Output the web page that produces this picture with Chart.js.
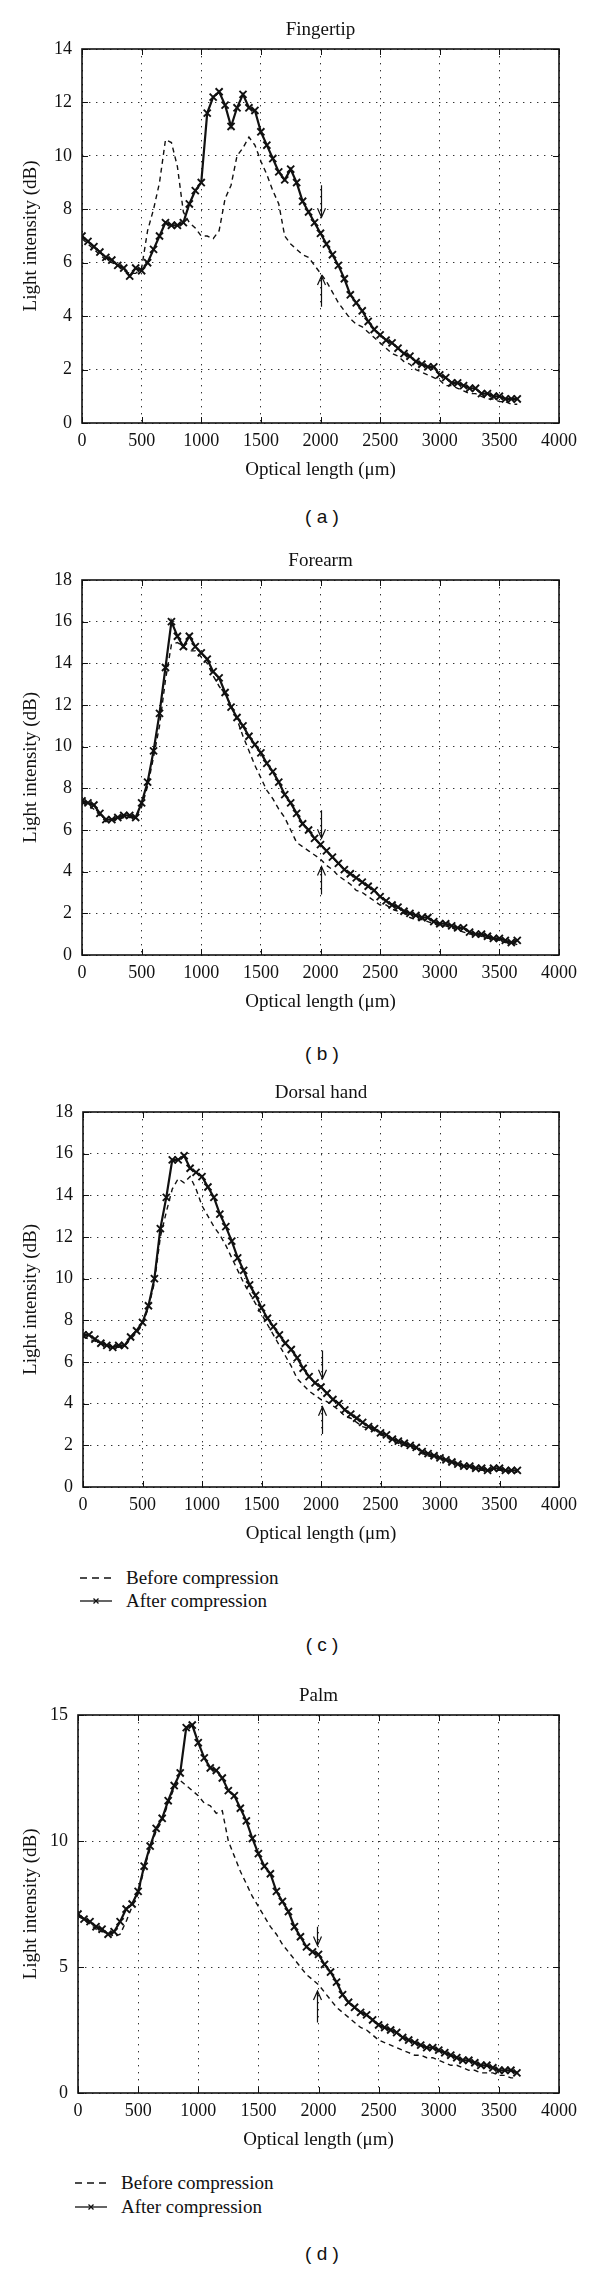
<!DOCTYPE html>
<html>
<head>
<meta charset="utf-8">
<script src="https://cdn.jsdelivr.net/npm/chart.js@4.4.1/dist/chart.umd.min.js"></script>
<style>
body { margin: 0; background: #fff; width: 600px; height: 2269px; position: relative; overflow: hidden; color: #111; font-family: "Liberation Serif", "Times New Roman", serif; }
.panel { position: absolute; left: 0; width: 600px; }
.tag { position: absolute; left: 222px; width: 200px; text-align: center; line-height: 22px; font: 19px "Liberation Sans", Arial, sans-serif; white-space: pre; }
.key { position: absolute; height: 24px; line-height: 24px; font-size: 19px; white-space: nowrap; }
.key svg { position: absolute; left: 0; top: 7px; }
.key span { position: absolute; }
</style>
</head>
<body>

<script>
// optical length in um, one sample every 50 um
var opticalLength = [0,50,100,150,200,250,300,350,400,450,
	500,550,600,650,700,750,800,850,900,950,
	1000,1050,1100,1150,1200,1250,1300,1350,1400,1450,
	1500,1550,1600,1650,1700,1750,1800,1850,1900,1950,
	2000,2050,2100,2150,2200,2250,2300,2350,2400,2450,
	2500,2550,2600,2650,2700,2750,2800,2850,2900,2950,
	3000,3050,3100,3150,3200,3250,3300,3350,3400,3450,
	3500,3550,3600,3650];

// light intensity (dB)
var fingertipBefore = [6.9,6.7,6.5,6.3,6.1,6.0,5.9,5.7,5.6,5.6,
	5.8,7.2,8.0,9.0,10.6,10.5,9.6,7.9,7.5,7.3,
	7.0,7.0,6.9,7.2,8.4,8.9,10.0,10.3,10.7,10.4,
	9.8,9.3,8.7,8.2,7.0,6.7,6.5,6.3,6.2,5.9,
	5.6,5.3,4.9,4.5,4.2,3.9,3.7,3.6,3.4,3.2,
	3.0,2.8,2.6,2.5,2.3,2.2,2.0,1.9,1.8,1.7,
	1.6,1.4,1.4,1.3,1.2,1.1,1.1,1.0,0.9,0.9,
	0.8,0.8,0.7,0.7];
var fingertipAfter = [7.0,6.8,6.6,6.4,6.2,6.1,5.9,5.8,5.5,5.8,
	5.7,6.0,6.5,7.0,7.5,7.4,7.4,7.5,8.2,8.7,
	9.0,11.6,12.2,12.4,11.9,11.1,11.8,12.3,11.8,11.7,
	10.9,10.4,9.9,9.4,9.1,9.5,9.0,8.3,7.9,7.5,
	7.1,6.7,6.3,5.9,5.4,4.8,4.5,4.2,3.8,3.5,
	3.3,3.1,3.0,2.8,2.6,2.5,2.3,2.2,2.1,2.1,
	1.8,1.7,1.5,1.5,1.4,1.3,1.3,1.1,1.1,1.0,
	1.0,0.9,0.9,0.9];

var forearmBefore = [7.3,7.2,7.0,6.7,6.4,6.5,6.5,6.6,6.6,6.6,
	7.1,8.1,9.5,11.0,13.2,14.9,15.0,14.8,14.6,14.6,
	14.3,14.0,13.4,12.9,12.5,12.0,11.3,10.5,9.8,9.1,
	8.5,7.9,7.5,7.0,6.6,6.0,5.4,5.2,5.0,4.8,
	4.6,4.3,4.1,3.8,3.6,3.4,3.1,3.0,2.8,2.6,
	2.4,2.4,2.2,2.1,2.0,1.8,1.7,1.7,1.6,1.5,
	1.4,1.4,1.3,1.2,1.1,1.0,1.0,0.9,0.8,0.8,
	0.7,0.6,0.6,0.5];
var forearmAfter = [7.4,7.3,7.2,6.8,6.5,6.5,6.6,6.7,6.7,6.6,
	7.3,8.3,9.8,11.6,13.8,16.0,15.3,14.8,15.3,14.8,
	14.5,14.2,13.6,13.3,12.6,11.9,11.4,11.0,10.5,10.1,
	9.7,9.2,8.8,8.3,7.7,7.3,6.8,6.3,6.0,5.6,
	5.3,5.0,4.7,4.4,4.1,3.9,3.7,3.5,3.3,3.1,
	2.8,2.6,2.4,2.3,2.1,2.0,1.9,1.8,1.8,1.6,
	1.5,1.5,1.4,1.3,1.3,1.1,1.0,1.0,0.9,0.8,
	0.8,0.7,0.6,0.7];

var dorsalBefore = [7.2,7.1,7.0,6.9,6.8,6.7,6.7,6.8,7.1,7.4,
	7.8,8.6,9.8,12.0,13.2,14.3,14.8,14.6,14.9,14.3,
	13.5,13.0,12.5,12.1,11.6,11.0,10.4,9.8,9.3,8.8,
	8.3,7.8,7.3,6.8,6.3,5.8,5.2,4.9,4.6,4.4,
	4.2,4.1,3.9,3.7,3.4,3.3,3.1,2.9,2.8,2.7,
	2.5,2.4,2.2,2.1,2.0,1.9,1.8,1.6,1.5,1.4,
	1.4,1.3,1.2,1.1,1.0,0.9,0.9,0.8,0.8,0.8,
	0.8,0.8,0.7,0.7];
var dorsalAfter = [7.3,7.3,7.1,6.9,6.8,6.7,6.8,6.8,7.2,7.5,
	7.9,8.7,10.0,12.4,13.9,15.7,15.7,15.9,15.3,15.1,
	14.9,14.4,13.9,13.1,12.5,11.8,11.0,10.4,9.7,9.2,
	8.6,8.1,7.7,7.3,6.9,6.6,6.2,5.7,5.3,5.0,
	4.8,4.5,4.2,4.0,3.7,3.5,3.3,3.1,2.9,2.8,
	2.6,2.5,2.3,2.2,2.1,2.0,1.9,1.7,1.6,1.5,
	1.4,1.3,1.2,1.1,1.0,1.0,0.9,0.9,0.8,0.9,
	0.9,0.8,0.8,0.8];

var palmBefore = [7.0,6.9,6.7,6.5,6.4,6.4,6.2,6.3,6.8,7.4,
	7.9,8.9,9.7,10.4,10.8,11.5,12.1,12.4,12.2,12.0,
	11.8,11.5,11.4,11.1,11.2,10.0,9.4,8.8,8.3,7.8,
	7.4,7.0,6.6,6.3,5.9,5.6,5.3,5.0,4.7,4.5,
	4.3,4.0,3.7,3.4,3.2,3.0,2.8,2.6,2.5,2.3,
	2.1,2.0,1.9,1.8,1.7,1.6,1.5,1.5,1.4,1.4,
	1.3,1.2,1.1,1.1,1.0,0.9,0.9,0.8,0.8,0.8,
	0.7,0.7,0.6,0.6];
var palmAfter = [7.1,6.9,6.8,6.6,6.5,6.3,6.4,6.8,7.3,7.5,
	8.0,9.0,9.8,10.5,10.9,11.6,12.2,12.7,14.5,14.6,
	13.9,13.3,12.9,12.8,12.5,12.0,11.8,11.3,10.8,10.1,
	9.5,9.0,8.7,8.0,7.6,7.2,6.6,6.2,5.8,5.6,
	5.5,5.1,4.8,4.4,3.9,3.6,3.4,3.2,3.1,2.9,
	2.7,2.6,2.5,2.4,2.2,2.1,2.0,1.9,1.8,1.8,
	1.7,1.6,1.5,1.4,1.3,1.3,1.2,1.1,1.1,1.0,
	0.9,0.9,0.9,0.8];

// arrows at the 2000 um mark: [x, from, to]
var fingertipArrows = [[2000, 8.9, 7.7], [2000, 4.35, 5.5]];
var forearmArrows = [[2000, 6.95, 5.6], [2000, 2.9, 4.25]];
var dorsalArrows = [[2010, 6.55, 5.2], [2010, 2.55, 3.85]];
var palmArrows = [[1990, 6.6, 5.85], [1990, 2.8, 4.05]];

var panelTitles = ['Fingertip', 'Forearm', 'Dorsal hand', 'Palm'];
var panelTags = ['( a )', '( b )', '( c )', '( d )'];
var yMaxima = [14, 18, 18, 15];
var ySteps = [2, 2, 2, 5];
var xTicks = [0, 500, 1000, 1500, 2000, 2500, 3000, 3500, 4000];
var seriesNames = ['Before compression', 'After compression'];
</script>

<script>
var SERIF = '"Liberation Serif", "Times New Roman", serif';
var INK = '#111';

// frame, inward ticks and the two arrows
var framePlugin = {
	id: 'frame',
	afterDatasetsDraw: function(chart, args, opts) {
		var ctx = chart.ctx, a = chart.chartArea;
		var xs = chart.scales.x, ys = chart.scales.y;
		ctx.save();
		ctx.strokeStyle = INK;
		ctx.lineWidth = 1;
		xs.ticks.forEach(function(t) {
			var px = Math.round(xs.getPixelForValue(t.value)) + 0.5;
			ctx.beginPath();
			ctx.moveTo(px, a.bottom); ctx.lineTo(px, a.bottom - 6);
			ctx.moveTo(px, a.top); ctx.lineTo(px, a.top + 6);
			ctx.stroke();
		});
		ys.ticks.forEach(function(t) {
			var py = Math.round(ys.getPixelForValue(t.value)) + 0.5;
			ctx.beginPath();
			ctx.moveTo(a.left, py); ctx.lineTo(a.left + 6, py);
			ctx.moveTo(a.right, py); ctx.lineTo(a.right - 6, py);
			ctx.stroke();
		});
		ctx.lineWidth = 1.2;
		(opts.arrows || []).forEach(function(ar) {
			var px = Math.round(xs.getPixelForValue(ar[0])) + 0.5;
			var y1 = ys.getPixelForValue(ar[1]), y2 = ys.getPixelForValue(ar[2]);
			var dir = y2 > y1 ? 1 : -1;
			ctx.beginPath();
			ctx.moveTo(px, y1); ctx.lineTo(px, y2);
			ctx.moveTo(px - 4, y2 - dir * 9); ctx.lineTo(px, y2); ctx.lineTo(px + 4, y2 - dir * 9);
			ctx.stroke();
		});
		ctx.lineWidth = 1.6;
		ctx.strokeRect(a.left, a.top, a.right - a.left, a.bottom - a.top);
		ctx.restore();
	}
};

function toPoints(values) {
	return values.map(function(v, i) { return {x: opticalLength[i], y: v}; });
}

function makePanel(index, before, after, arrows, place) {
	var topBox = 49, bottomBox = 60;
	var div = document.createElement('div');
	div.className = 'panel';
	div.style.top = (place.plotTop - topBox) + 'px';
	var canvas = document.createElement('canvas');
	canvas.width = 600;
	canvas.height = topBox + place.plotHeight + bottomBox;
	div.appendChild(canvas);
	document.body.appendChild(div);

	var tag = document.createElement('div');
	tag.className = 'tag';
	tag.style.top = (place.tagY - 11) + 'px';
	tag.textContent = panelTags[index];
	document.body.appendChild(tag);

	var tickFont = {family: SERIF, size: 18};
	var titleFont = {family: SERIF, size: 19};
	var plain = function(v) { return String(v); };

	return new Chart(canvas, {
		type: 'line',
		data: {
			datasets: [{
				label: seriesNames[1],
				data: toPoints(after),
				borderColor: INK,
				borderWidth: 2.2,
				pointStyle: 'crossRot',
				pointRadius: 5,
				pointBorderWidth: 1.9,
				pointBorderColor: INK,
				order: 0
			}, {
				label: seriesNames[0],
				data: toPoints(before),
				borderColor: INK,
				borderWidth: 1.4,
				borderDash: [5, 4],
				pointRadius: 0,
				order: 1
			}]
		},
		options: {
			responsive: false,
			animation: false,
			devicePixelRatio: 1,
			events: [],
			layout: {padding: {left: 0, right: 600 - place.plotRight, top: 0, bottom: 0}},
			plugins: {
				legend: {display: false},
				tooltip: {enabled: false},
				frame: {arrows: arrows}
			},
			scales: {
				x: {
					type: 'linear', position: 'bottom', min: 0, max: 4000,
					afterBuildTicks: function(s) { s.ticks = xTicks.map(function(v) { return {value: v}; }); },
					afterFit: function(s) { s.height = bottomBox; },
					ticks: {font: tickFont, color: INK, padding: 7, maxRotation: 0, callback: plain},
					grid: {color: '#333', lineWidth: 1, drawTicks: false},
					border: {display: false, dash: [1.4, 5.6]},
					title: {display: true, text: 'Optical length (\u03bcm)', font: titleFont, color: INK, padding: {top: 0, bottom: 2}}
				},
				top: {
					type: 'linear', position: 'top', min: 0, max: 4000,
					afterFit: function(s) { s.height = topBox; },
					ticks: {display: false},
					grid: {display: false},
					border: {display: false},
					title: {display: true, text: panelTitles[index], font: titleFont, color: INK, padding: {top: 19, bottom: 0}}
				},
				y: {
					type: 'linear', position: 'left', min: 0, max: yMaxima[index],
					afterFit: function(s) { s.width = place.plotLeft; },
					ticks: {stepSize: ySteps[index], font: tickFont, color: INK, padding: 10, callback: plain},
					grid: {color: '#333', lineWidth: 1, drawTicks: false},
					border: {display: false, dash: [1.4, 5.6]},
					title: {display: true, text: 'Light intensity (dB)', font: titleFont, color: INK, padding: {top: 20, bottom: 0}}
				}
			}
		},
		plugins: [framePlugin]
	});
}

function makeKey(left, textLeft, rowY) {
	var samples = [
		'<svg width="32" height="10"><line x1="0" y1="5" x2="32" y2="5" stroke="' + INK + '" stroke-width="1.3" stroke-dasharray="7,5"/></svg>',
		'<svg width="32" height="10"><line x1="0" y1="5" x2="32" y2="5" stroke="' + INK + '" stroke-width="1.3"/><path d="M13.5 2.5 L18.5 7.5 M18.5 2.5 L13.5 7.5" stroke="' + INK + '" stroke-width="1.3"/></svg>'
	];
	seriesNames.forEach(function(name, i) {
		var row = document.createElement('div');
		row.className = 'key';
		row.style.left = left + 'px';
		row.style.top = (rowY[i] - 12) + 'px';
		row.innerHTML = samples[i] + '<span style="left:' + (textLeft - left) + 'px"></span>';
		row.querySelector('span').textContent = name;
		document.body.appendChild(row);
	});
}

makePanel(0, fingertipBefore, fingertipAfter, fingertipArrows, {plotTop: 49, plotHeight: 374, plotLeft: 82, plotRight: 559, tagY: 517});
makePanel(1, forearmBefore, forearmAfter, forearmArrows, {plotTop: 580, plotHeight: 375, plotLeft: 82, plotRight: 559, tagY: 1054});
makePanel(2, dorsalBefore, dorsalAfter, dorsalArrows, {plotTop: 1112, plotHeight: 375, plotLeft: 83, plotRight: 559, tagY: 1645});
makePanel(3, palmBefore, palmAfter, palmArrows, {plotTop: 1715, plotHeight: 378, plotLeft: 78, plotRight: 559, tagY: 2254});
makeKey(80, 126, [1578, 1601]);
makeKey(75, 121, [2183, 2207]);
</script>
</body>
</html>
